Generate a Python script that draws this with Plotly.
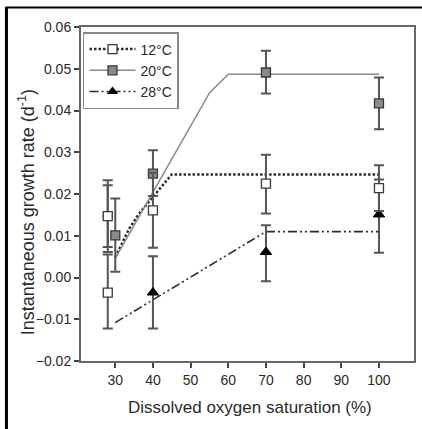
import plotly.graph_objects as go

# Measured growth rates (mean and error bar extents) at each oxygen level
oxygen_12 = [28, 28, 28, 40, 70, 100]
growth_12 = [0.0147, 0.0147, -0.0036, 0.0161, 0.0225, 0.0214]
err_up_12 = [0.0086, 0.0074, 0.0091, 0.0090, 0.0069, 0.0055]
err_dn_12 = [0.0086, 0.0074, 0.0086, 0.0090, 0.0072, 0.0055]
symbols_12 = ["circle", "square", "square", "square", "square", "square"]

oxygen_20 = [30, 40, 70, 100]
growth_20 = [0.0101, 0.0249, 0.0491, 0.0417]
err_up_20 = [0.0088, 0.0056, 0.0052, 0.0062]
err_dn_20 = [0.0087, 0.0054, 0.0050, 0.0062]

oxygen_28 = [40, 70, 100]
growth_28 = [-0.0036, 0.0061, 0.0151]
err_up_28 = [0.0087, 0.0064, 0.0084]
err_dn_28 = [0.0086, 0.0070, 0.0092]

# Fitted response curves
fit12_x = [30, 33.7, 36.3, 45, 100]
fit12_y = [0.0049, 0.0117, 0.0153, 0.0247, 0.0247]
fit20_x = [30, 55, 60, 100]
fit20_y = [0.0046, 0.0442, 0.0487, 0.0487]
fit28_x = [30, 70, 100]
fit28_y = [-0.0108, 0.0110, 0.0110]

series_names = ["12°C", "20°C", "28°C"]
x_ticks = [30, 40, 50, 60, 70, 80, 90, 100]
y_ticks = [-0.02, -0.01, 0.00, 0.01, 0.02, 0.03, 0.04, 0.05, 0.06]
x_title = "Dissolved oxygen saturation (%)"
y_title = "Instantaneous growth rate (d<sup>-1</sup>)"

FONT = "Liberation Sans, Arial, Helvetica, sans-serif"
INK = "#2a2a2a"
ERR = "#555555"
EDGE = "#3a3a3a"

# plot area in pixels, used to place paper-referenced decorations
L, R, T, B = 81, 416, 27, 361
W, H = R - L, B - T


def px_x(p):
    return (p - L) / W


def px_y(p):
    return (B - p) / H


dash12 = "2.5px,2px"
dash28 = "9px,3px,2px,3px,2px,3px"

fig = go.Figure()

# Fitted lines
fig.add_trace(go.Scatter(x=fit12_x, y=fit12_y, mode="lines", showlegend=False,
                         line=dict(color=INK, width=2.5, dash=dash12)))
fig.add_trace(go.Scatter(x=fit20_x, y=fit20_y, mode="lines", showlegend=False,
                         line=dict(color="#8a8a8a", width=1.5)))
fig.add_trace(go.Scatter(x=fit28_x, y=fit28_y, mode="lines", showlegend=False,
                         line=dict(color=INK, width=1.6, dash=dash28)))


def err(up, dn):
    return dict(type="data", symmetric=False, array=up, arrayminus=dn,
                color=ERR, thickness=2, width=5)


# Observations with error bars
fig.add_trace(go.Scatter(x=oxygen_28, y=growth_28, mode="markers", showlegend=False,
                         error_y=err(err_up_28, err_dn_28),
                         marker=dict(symbol="triangle-up", size=10, color="#000000",
                                     line=dict(color="#000000", width=1))))
fig.add_trace(go.Scatter(x=oxygen_20, y=growth_20, mode="markers", showlegend=False,
                         error_y=err(err_up_20, err_dn_20),
                         marker=dict(symbol="square", size=9, color="#8a8a8a",
                                     line=dict(color=EDGE, width=1.3))))
fig.add_trace(go.Scatter(x=oxygen_12, y=growth_12, mode="markers", showlegend=False,
                         error_y=err(err_up_12, err_dn_12),
                         marker=dict(symbol=symbols_12, size=9, color="#ffffff",
                                     line=dict(color=EDGE, width=1.3))))

# Legend entries combining line style and marker
fig.add_trace(go.Scatter(x=[None], y=[None], mode="lines+markers", name=series_names[0],
                         line=dict(color=INK, width=2.5, dash=dash12),
                         marker=dict(symbol="square", size=9, color="#ffffff",
                                     line=dict(color=EDGE, width=1.3))))
fig.add_trace(go.Scatter(x=[None], y=[None], mode="lines+markers", name=series_names[1],
                         line=dict(color="#8a8a8a", width=1.5),
                         marker=dict(symbol="square", size=9, color="#8a8a8a",
                                     line=dict(color=EDGE, width=1.3))))
fig.add_trace(go.Scatter(x=[None], y=[None], mode="lines+markers", name=series_names[2],
                         line=dict(color=INK, width=1.6, dash=dash28),
                         marker=dict(symbol="triangle-up", size=10, color="#000000")))

axis_common = dict(
    showgrid=False, zeroline=False, showline=True, linecolor="#666666", linewidth=2,
    mirror=True, ticks="outside", ticklen=5, tickwidth=1.5, tickcolor="#444444",
    tickfont=dict(family=FONT, size=14, color=INK),
)

fig.update_layout(
    width=422, height=429,
    margin=dict(l=L, r=422 - R, t=T, b=429 - B),
    paper_bgcolor="#ffffff", plot_bgcolor="#ffffff",
    font=dict(family=FONT, color=INK),
    xaxis=dict(range=[20.9, 109.3], tickvals=x_ticks, **axis_common),
    yaxis=dict(range=[-0.02, 0.06], tickvals=y_ticks, tickformat=".2f", **axis_common),
    legend=dict(x=0.006, y=0.985, xanchor="left", yanchor="top",
                bordercolor="#888888", borderwidth=1.5, bgcolor="#ffffff",
                font=dict(family=FONT, size=14, color=INK),
                itemwidth=46, tracegroupgap=2),
    annotations=[
        dict(text=x_title, xref="paper", yref="paper", x=px_x(251.5), y=px_y(407.5),
             xanchor="center", yanchor="middle", showarrow=False,
             font=dict(family=FONT, size=17, color=INK)),
        dict(text=y_title, xref="paper", yref="paper", x=px_x(26), y=px_y(212),
             xanchor="center", yanchor="middle", showarrow=False, textangle=-90,
             font=dict(family=FONT, size=18, color=INK)),
    ],
    shapes=[
        # outer frame: left and top edges of the figure box
        dict(type="line", xref="paper", yref="paper",
             x0=px_x(6), x1=px_x(6), y0=px_y(7), y1=px_y(440),
             line=dict(color="#000000", width=3)),
        dict(type="line", xref="paper", yref="paper",
             x0=px_x(5), x1=px_x(430), y0=px_y(7.5), y1=px_y(7.5),
             line=dict(color="#000000", width=2)),
    ],
)

fig.write_html("out.html")
